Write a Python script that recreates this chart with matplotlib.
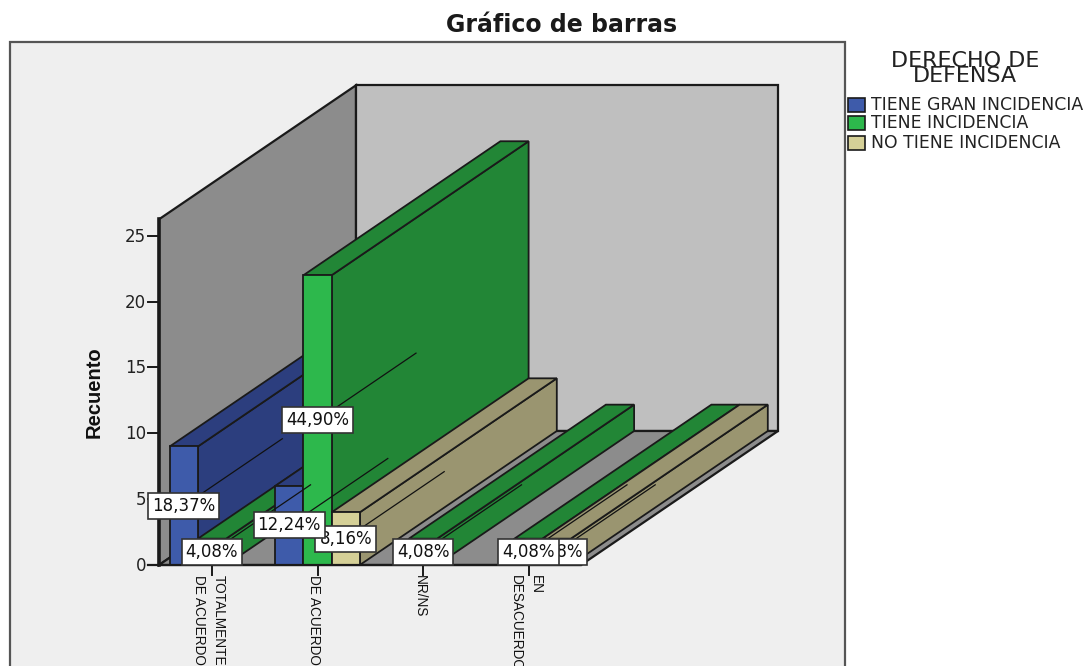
#!/usr/bin/env python3
import matplotlib
matplotlib.use('Agg')
import matplotlib.pyplot as plt
from matplotlib.patches import Polygon, Rectangle

plt.rcParams['font.family'] = ['DejaVu Sans']
NARROW = 'Liberation Sans'

# ---- data
categories = ['TOTALMENTE\nDE ACUERDO', 'DE ACUERDO', 'NR/NS', 'EN\nDESACUERDO']
series_names = ['TIENE GRAN INCIDENCIA', 'TIENE INCIDENCIA', 'NO TIENE INCIDENCIA']
gran = [9, 6, 0, 0]
incid = [2, 22, 2, 2]
no_incid = [0, 4, 0, 2]
y_ticks = [0, 5, 10, 15, 20, 25]
total = 49

# ---- colours: front, side
colors = [('#3E5BAA', '#2C3E7E'), ('#2DB84C', '#228636'), ('#D5D097', '#9A9570')]
EDGE = '#1a1a1a'

# ---- geometry of the projection (pixels)
X0 = 212.0      # centre of first category
DX = 105.5      # category spacing
BW = 28.2       # bar width
Y0 = 565.0      # value 0
UNIT = 13.17    # px per count
DEPTH = (197.0, -134.0)


def proj(x, v, d=0.0):
    return x + d * DEPTH[0], Y0 - v * UNIT + d * DEPTH[1]


fig = plt.figure(figsize=(10.86, 6.66), dpi=100)
ax = fig.add_axes([0, 0, 1, 1])
ax.set_xlim(0, 1086)
ax.set_ylim(666, 0)
ax.axis('off')

# chart frame
ax.add_patch(Rectangle((10, 42), 835, 640, fc='#EFEFEF', ec='#555555', lw=1.6, zorder=0))
ax.text(562, 25, 'Gráfico de barras', ha='center', va='center', fontsize=17, fontweight='bold', color='#1a1a1a')

# walls and floor
W_LEFT, W_RIGHT, W_TOP = 159.0, 581.0, 26.25
wall = dict(ec=EDGE, lw=1.6, joinstyle='miter', zorder=1)
ax.add_patch(Polygon([proj(W_LEFT, 0), proj(W_LEFT, W_TOP), proj(W_LEFT, W_TOP, 1), proj(W_LEFT, 0, 1)], fc='#8C8C8C', **wall))
ax.add_patch(Polygon([proj(W_LEFT, 0, 1), proj(W_LEFT, W_TOP, 1), proj(W_RIGHT, W_TOP, 1), proj(W_RIGHT, 0, 1)], fc='#BFBFBF', **wall))
ax.add_patch(Polygon([proj(W_LEFT, 0), proj(W_LEFT, 0, 1), proj(W_RIGHT, 0, 1), proj(W_RIGHT, 0)], fc='#8C8C8C', **wall))
ax.plot([proj(W_LEFT, 0)[0]] * 2, [proj(W_LEFT, 0)[1], proj(W_LEFT, W_TOP)[1]], color=EDGE, lw=2.6, zorder=2)

# bars, left to right so the nearer faces overlap properly
labels = []
z = 3
for c in range(len(categories)):
    for s, vals in enumerate([gran, incid, no_incid]):
        v = vals[c]
        if v == 0:
            continue
        xl = X0 + DX * c + (s - 1.5) * BW
        xr = xl + BW
        front, side = colors[s]
        st = dict(ec=EDGE, lw=1.3, joinstyle='miter', zorder=z)
        ax.add_patch(Polygon([proj(xr, 0), proj(xr, v), proj(xr, v, 1), proj(xr, 0, 1)], fc=side, **st))
        ax.add_patch(Polygon([proj(xl, v), proj(xl, v, 1), proj(xr, v, 1), proj(xr, v)], fc=side, **st))
        ax.add_patch(Polygon([proj(xl, 0), proj(xl, v), proj(xr, v), proj(xr, 0)], fc=front, **st))
        z += 1
        labels.append((xl + BW / 2, v))

# leader lines run from the bar front to half the depth
for xc, v in labels:
    a = proj(xc, v / 2)
    b = proj(xc, v / 2, 0.5)
    ax.plot([a[0], b[0]], [a[1], b[1]], color='#111111', lw=0.9, zorder=50)

# y axis
for t in y_ticks:
    ax.plot([148, W_LEFT], [proj(0, t)[1]] * 2, color=EDGE, lw=1.4, zorder=2)
    ax.text(146, proj(0, t)[1] + 1, str(t), ha='right', va='center', fontsize=12, color='#222222', zorder=2)
ax.text(94, 392, 'Recuento', rotation=90, ha='center', va='center', fontsize=14.5, fontweight='bold',
        family=NARROW, color='#111111')

# x axis
ax.plot([148, W_RIGHT], [Y0, Y0], color=EDGE, lw=1.6, zorder=40)
for c, name in enumerate(categories):
    x = X0 + DX * c
    ax.plot([x, x], [Y0, Y0 + 10], color=EDGE, lw=1.4, zorder=40)
    ax.text(x - 3, 575, name, rotation=-90, ha='center', va='top', fontsize=9.8, family=NARROW,
            multialignment='left', linespacing=1.55, color='#111111', zorder=40)

# value boxes on top of everything, first series uppermost
for i, (xc, v) in enumerate(labels):
    ax.text(xc, proj(xc, v / 2)[1], f'{100 * v / total:.2f}%'.replace('.', ','), ha='center', va='center',
            fontsize=12, color='#111111', zorder=100 - i,
            bbox=dict(boxstyle='square,pad=0.24', fc='white', ec='#333333', lw=1.2))

# legend
ax.text(965, 68.5, 'DERECHO DE\nDEFENSA', ha='center', va='center', fontsize=16, linespacing=0.7, color='#222222')
for s, name in enumerate(series_names):
    y = [105, 123, 143][s]
    ax.add_patch(Rectangle((848, y - 7), 17, 14, fc=colors[s][0], ec=EDGE, lw=1.2))
    ax.text(871, y, name, ha='left', va='center', fontsize=12.4, color='#222222')

fig.savefig('out.png', dpi=100)
plt.close(fig)
